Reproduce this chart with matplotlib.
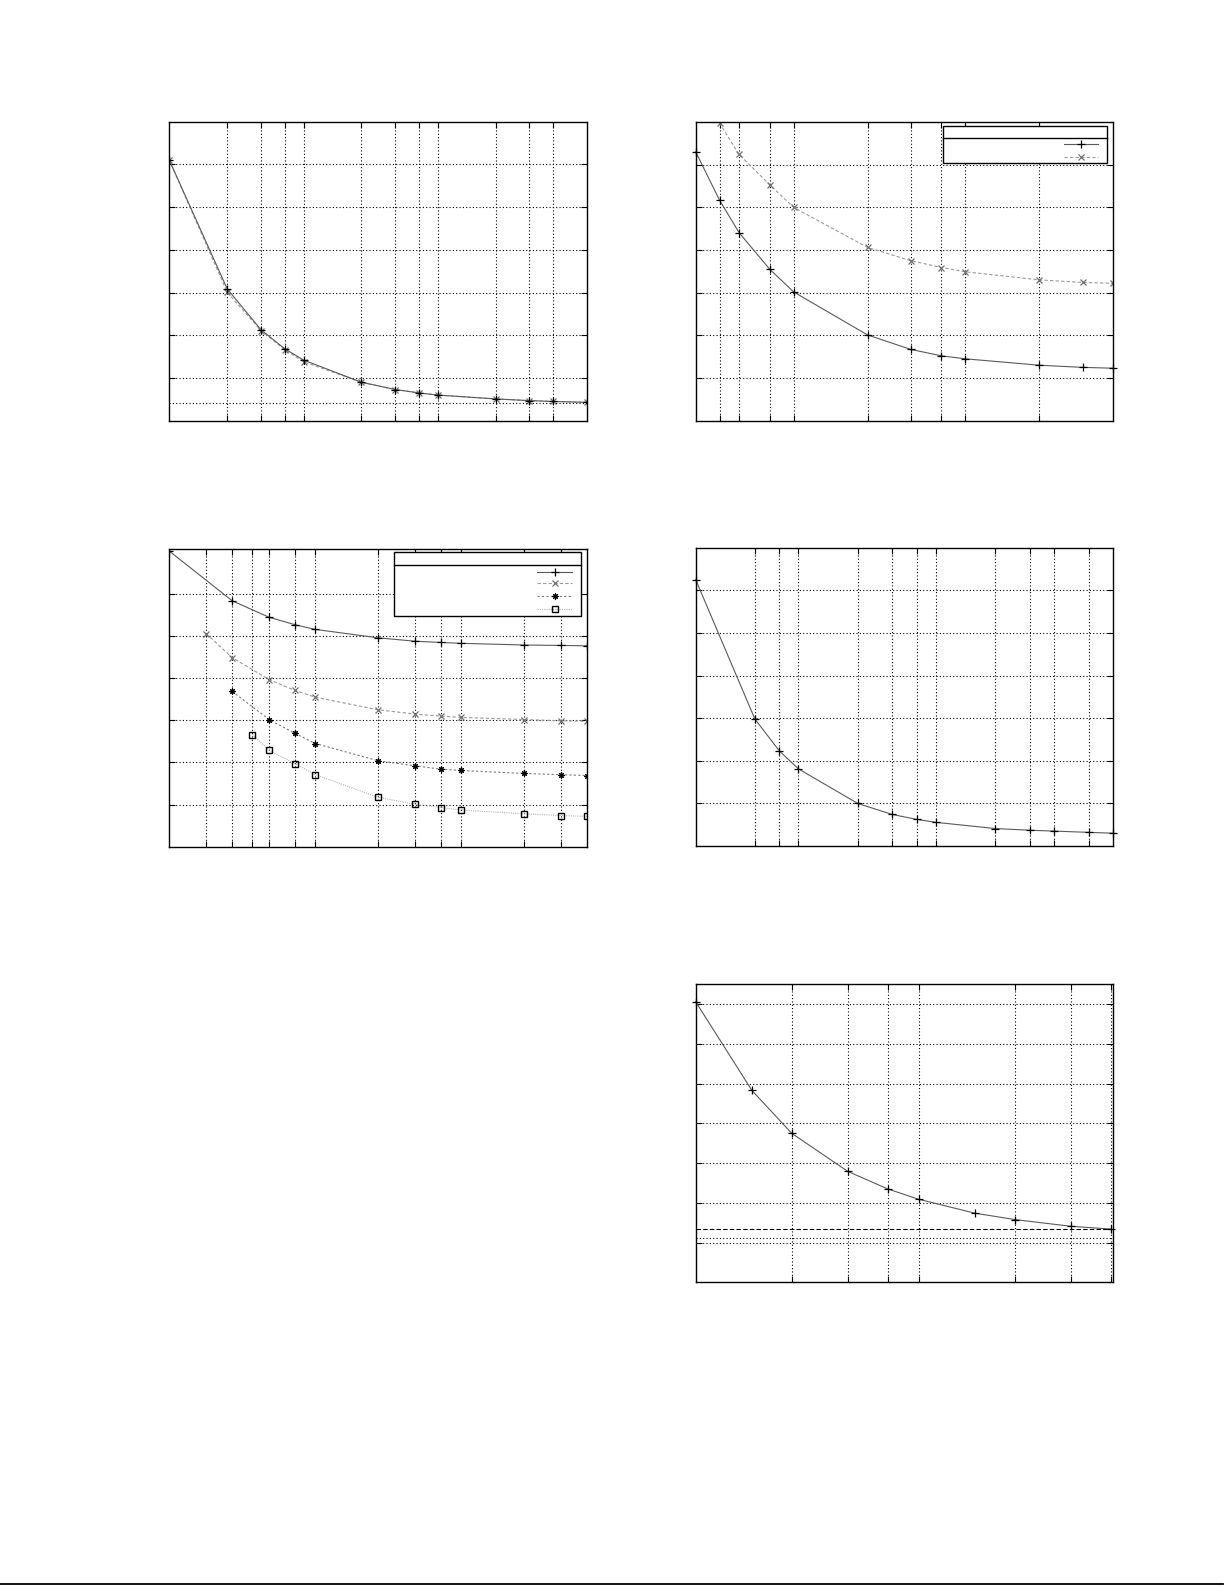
import numpy as np
import matplotlib
matplotlib.use("Agg")
import matplotlib.pyplot as plt
from matplotlib.ticker import FixedLocator, NullFormatter, NullLocator
from matplotlib.lines import Line2D
from matplotlib.patches import Rectangle

# -------------------------------
# Data (no labels in the source)
# -------------------------------
# panel A (top left)
a_x = [1, 2, 3, 4, 5, 10, 15, 20, 25, 50, 75, 100, 150]
a_y1 = [6.10, 3.09, 2.13, 1.68, 1.42, 0.90, 0.73, 0.65, 0.60, 0.51, 0.47, 0.45, 0.43]
a_x2 = [1, 2, 3, 4, 5, 10, 15, 20, 25, 50, 75, 100, 150]
a_y2 = [6.10, 3.01, 2.11, 1.66, 1.38, 0.90, 0.73, 0.65, 0.60, 0.51, 0.47, 0.45, 0.43]
a_ref = 0.414
a_xticks = [2, 3, 4, 5, 10, 15, 20, 25, 50, 75, 100]

# panel B (top right)
b_x1 = [2, 2.5, 3, 4, 5, 10, 15, 20, 25, 50, 75, 100]
b_y1 = [6.30, 5.17, 4.41, 3.55, 3.02, 2.01, 1.67, 1.52, 1.45, 1.30, 1.25, 1.23]
b_x2 = [2.5, 3, 4, 5, 10, 15, 20, 25, 50, 75, 100]
b_y2 = [6.98, 6.24, 5.53, 5.00, 4.06, 3.75, 3.59, 3.49, 3.30, 3.24, 3.22]
b_xticks = [2.5, 3, 4, 5, 10, 15, 20, 25, 50]

# panel C (middle left)
c_x1 = [1, 2, 3, 4, 5, 10, 15, 20, 25, 50, 75, 100]
c_y1 = [7.02, 5.84, 5.45, 5.27, 5.16, 4.96, 4.88, 4.85, 4.83, 4.79, 4.78, 4.77]
c_x2 = [1.5, 2, 3, 4, 5, 10, 15, 20, 25, 50, 75, 100]
c_y2 = [5.06, 4.49, 3.97, 3.71, 3.55, 3.25, 3.15, 3.10, 3.07, 3.02, 2.99, 2.98]
c_x3 = [2, 3, 4, 5, 10, 15, 20, 25, 50, 75, 100]
c_y3 = [3.69, 3.02, 2.69, 2.45, 2.04, 1.92, 1.84, 1.81, 1.74, 1.71, 1.69]
c_x4 = [2.5, 3, 4, 5, 10, 15, 20, 25, 50, 75, 100]
c_y4 = [2.66, 2.29, 1.97, 1.71, 1.17, 1.01, 0.93, 0.87, 0.78, 0.74, 0.72]
c_xticks = [1.5, 2, 2.5, 3, 4, 5, 10, 15, 20, 25, 50, 75]

# panel D (middle right)
d_x = [1.5, 3, 4, 5, 10, 15, 20, 25, 50, 75, 100, 150, 200]
d_y = [6.25, 2.98, 2.23, 1.81, 1.00, 0.74, 0.625, 0.555, 0.41, 0.37, 0.35, 0.32, 0.30]
d_xticks = [3, 4, 5, 10, 15, 20, 25, 50, 75, 100, 150]

# panel E (bottom right)
e_x = [1, 1.5, 2, 3, 4, 5, 7.5, 10, 15, 20]
e_y = [7.06, 4.83, 3.75, 2.79, 2.35, 2.09, 1.74, 1.58, 1.41, 1.34]
e_ref1 = 1.34
e_ref2 = 1.12
e_xticks = [2, 3, 4, 5, 10, 15, 20]

# -------------------------------
# Styles (gnuplot-like monochrome)
# -------------------------------
s1 = dict(color="#5a5a5a", lw=0.8, ls="-", marker="+", ms=5.5, mec="black", mew=0.9)
s2 = dict(color="#9a9a9a", lw=0.8, ls=(0, (3, 2)), marker="x", ms=4, mec="#707070", mew=0.9)
s3 = dict(color="#7a7a7a", lw=0.8, ls=(0, (2, 2)), marker=(8, 2, 0), ms=4.5, mec="black", mew=0.8)
s4 = dict(color="#b5b5b5", lw=0.8, ls=(0, (1, 1)), marker="s", ms=4.5, mfc="none", mec="black", mew=1.0)

W, H = 1225, 1585
fig = plt.figure(figsize=(W / 100, H / 100), dpi=100)


def make_axes(l, r, t, b):
    return fig.add_axes([l / W, 1 - b / H, (r - l) / W, (b - t) / H])


def style_axes(ax, xlim, ylim, xticks, yticks):
    ax.set_xscale("log")
    ax.set_xlim(*xlim)
    ax.set_ylim(*ylim)
    ax.xaxis.set_major_locator(FixedLocator(xticks))
    ax.xaxis.set_minor_locator(NullLocator())
    ax.xaxis.set_major_formatter(NullFormatter())
    ax.xaxis.set_minor_formatter(NullFormatter())
    ax.yaxis.set_major_locator(FixedLocator(yticks))
    ax.yaxis.set_major_formatter(NullFormatter())
    ax.tick_params(which="both", direction="in", length=4, width=0.8,
                   top=True, right=True, labelbottom=False, labelleft=False)
    ax.grid(True, color="black", ls=(0, (1, 2)), lw=0.8)
    ax.set_axisbelow(True)
    for sp in ax.spines.values():
        sp.set_linewidth(1.0)


def key_box(ax, x0, x1, y0, y1, ysep, rows, styles, sx0, sx1):
    # legend box in axes fraction, empty text as in the source
    ax.add_patch(Rectangle((x0, y0), x1 - x0, y1 - y0, transform=ax.transAxes,
                           facecolor="white", edgecolor="black", lw=1.0, zorder=5))
    ax.add_line(Line2D([x0, x1], [ysep, ysep], transform=ax.transAxes,
                       color="black", lw=1.0, zorder=6))
    for yy, st in zip(rows, styles):
        line_st = {k: v for k, v in st.items() if not k.startswith("m")}
        mark_st = {k: v for k, v in st.items() if k.startswith("m")}
        ax.add_line(Line2D([sx0, sx1], [yy, yy], transform=ax.transAxes, zorder=6, **line_st))
        ax.add_line(Line2D([(sx0 + sx1) / 2], [yy], transform=ax.transAxes, ls="none",
                           zorder=7, **mark_st))


def fx(px, l, r):
    return (px - l) / (r - l)


def fy(py, t, b):
    return (b - py) / (b - t)


# -------------------------------
# Panel A
# -------------------------------
axA = make_axes(169.3, 587.3, 121.7, 420.7)
axA.plot(a_x2, a_y2, **s2)
axA.plot(a_x, a_y1, **s1)
axA.axhline(a_ref, color="black", ls=(0, (1, 2)), lw=0.8)
style_axes(axA, (1, 150), (0, 7), a_xticks, [1, 2, 3, 4, 5, 6])

# -------------------------------
# Panel B
# -------------------------------
L, R, T, B = 695.7, 1113.3, 122, 420.7
axB = make_axes(L, R, T, B)
axB.plot(b_x1, b_y1, clip_on=False, **s1)
axB.plot(b_x2, b_y2, **s2)
style_axes(axB, (2, 100), (0, 7), b_xticks, [1, 2, 3, 4, 5, 6])
key_box(axB, fx(943.3, L, R), fx(1106.7, L, R), fy(163.3, T, B), fy(125.7, T, B),
        fy(138.3, T, B), [fy(144.3, T, B), fy(157, T, B)], [s1, s2],
        fx(1064.3, L, R), fx(1097.7, L, R))

# -------------------------------
# Panel C
# -------------------------------
L, R, T, B = 169.3, 587.3, 549, 846.7
axC = make_axes(L, R, T, B)
axC.plot(c_x1, c_y1, **s1)
axC.plot(c_x2, c_y2, **s2)
axC.plot(c_x3, c_y3, **s3)
axC.plot(c_x4, c_y4, **s4)
style_axes(axC, (1, 100), (0, 7.07), c_xticks, [1, 2, 3, 4, 5, 6])
key_box(axC, fx(394.3, L, R), fx(580.7, L, R), fy(615.7, T, B), fy(552.3, T, B),
        fy(565, T, B), [fy(571.7, T, B), fy(583.3, T, B), fy(596, T, B), fy(609, T, B)],
        [s1, s2, s3, s4], fx(537.3, L, R), fx(572.3, L, R))

# -------------------------------
# Panel D
# -------------------------------
axD = make_axes(695.7, 1113.3, 547.7, 846)
axD.plot(d_x, d_y, clip_on=False, **s1)
style_axes(axD, (1.5, 200), (0, 7), d_xticks, [1, 2, 3, 4, 5, 6])

# -------------------------------
# Panel E
# -------------------------------
axE = make_axes(695.7, 1112.7, 984.3, 1282.3)
axE.plot(e_x, e_y, clip_on=False, **s1)
axE.axhline(e_ref1, color="black", ls=(0, (4, 2)), lw=0.8)
axE.axhline(e_ref2, color="black", ls=(0, (1, 2)), lw=0.8)
style_axes(axE, (1, 20.3), (0, 7.5), e_xticks, [1, 2, 3, 4, 5, 6, 7])

# page rule at the bottom
fig.add_artist(Line2D([0, 1223 / W], [1 - 1583.5 / H, 1 - 1583.5 / H],
                      transform=fig.transFigure, color="black", lw=1.3))

fig.savefig("out.png", dpi=100, facecolor="white")
